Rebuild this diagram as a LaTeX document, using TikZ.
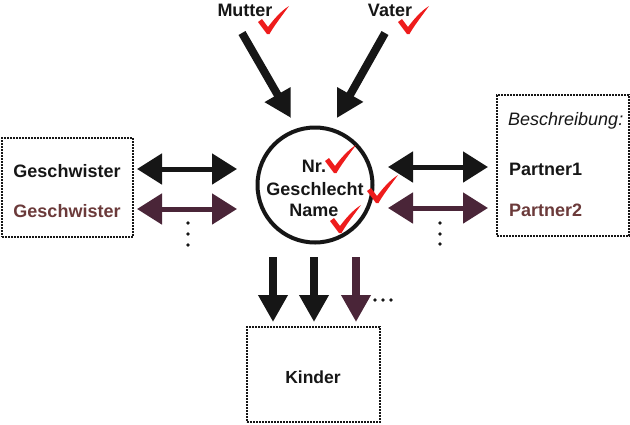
\documentclass[tikz,border=0pt]{standalone}
\usepackage{fontspec}
\setmainfont{Liberation Sans}
\usetikzlibrary{arrows.meta}
\definecolor{dk}{HTML}{161616}
\definecolor{pur}{HTML}{4A2538}
\definecolor{brn}{HTML}{6B3A3A}
\definecolor{chk}{HTML}{EE1C1C}
\begin{document}
\begin{tikzpicture}[x=1pt,y=-1pt,
  txt/.style={font=\fontsize{18}{22}\bfseries, inner sep=0pt, text=dk},
  box/.style={draw=dk, line width=2pt, densely dotted, inner sep=0pt},
  bigarrow/.style={draw=dk, line width=8pt, -{Triangle[width=28pt,length=27pt]}},
  dblarrow/.style={line width=5pt, {Triangle[width=30pt,length=25pt]}-{Triangle[width=30pt,length=25pt]}},
  dotmark/.style={fill=dk, draw=none, circle, minimum size=3.6pt, inner sep=0pt},
  pics/tick/.style={code={
    \fill[chk] (-10,-11) -- (-6,-14) -- (0,-6) .. controls (6,-14) and (13,-22) .. (21,-27)
      .. controls (13,-16) and (6,-7) .. (1.5,1) -- (-1,1) -- cycle;}}]
\useasboundingbox (0,0) rectangle (630,424);

% texts on top
\node[txt, anchor=base] (mutter) at (245,16) {Mutter};
\node[txt, anchor=base] (vater) at (390,16) {Vater};

% person circle
\node[circle, draw=dk, line width=4pt, minimum size=115pt, inner sep=0pt] (person) at (315,185) {};
\node[txt, anchor=base] (nr) at (314,172) {Nr.};
\node[txt, anchor=base] (geschl) at (315,195) {Geschlecht};
\node[txt, anchor=base] (name) at (314,216) {Name};

% boxes
\node[box, minimum width=131pt, minimum height=99pt] (geschbox) at (67.5,187.5) {};
\node[txt, anchor=base] (g1) at (67,177) {Geschwister};
\node[txt, anchor=base, text=brn] (g2) at (67,217) {Geschwister};

\node[box, minimum width=132pt, minimum height=141pt] (partbox) at (563,165.5) {};
\node[txt, anchor=base west, font=\fontsize{18}{20}\itshape] (beschr) at (508,125) {Beschreibung:};
\node[txt, anchor=base west] (p1) at (509,175) {Partner1};
\node[txt, anchor=base west, text=brn] (p2) at (509,216) {Partner2};

\node[box, minimum width=133pt, minimum height=95pt] (kindbox) at (313.5,374.5) {};
\node[txt, anchor=base, font=\fontsize{17.5}{20}\bfseries] (kinder) at (313,383) {Kinder};

% arrow end points
\coordinate (ma) at (242,33);  \coordinate (mb) at (291,118);
\coordinate (va) at (385,33);  \coordinate (vb) at (337,118);
\coordinate (la1) at (137,169); \coordinate (lb1) at (237,169);
\coordinate (la2) at (137,209); \coordinate (lb2) at (237,209);
\coordinate (ra1) at (388,167); \coordinate (rb1) at (488,167);
\coordinate (ra2) at (388,208); \coordinate (rb2) at (488,208);
\coordinate (d1a) at (273,257); \coordinate (d1b) at (273,322);
\coordinate (d2a) at (314,257); \coordinate (d2b) at (314,322);
\coordinate (d3a) at (356,257); \coordinate (d3b) at (356,322);

\draw[bigarrow] (ma) -- (mb);
\draw[bigarrow] (va) -- (vb);
\draw[dblarrow, draw=dk, fill=dk] (la1) -- (lb1);
\draw[dblarrow, draw=pur, fill=pur] (la2) -- (lb2);
\draw[dblarrow, draw=dk, fill=dk] (ra1) -- (rb1);
\draw[dblarrow, draw=pur, fill=pur] (ra2) -- (rb2);
\draw[bigarrow] (d1a) -- (d1b);
\draw[bigarrow] (d2a) -- (d2b);
\draw[bigarrow, draw=pur] (d3a) -- (d3b);

% dots
\foreach \yy [count=\i] in {223,234,245} {\node[dotmark] (ld\i) at (188,\yy) {};}
\foreach \yy [count=\i] in {223,234,244} {\node[dotmark] (rd\i) at (440,\yy) {};}
\foreach \xx [count=\i] in {375,383,391} {\node[dotmark] (bd\i) at (\xx,300) {};}

% ticks
\pic at (268,33) {tick};
\pic at (408,33) {tick};
\pic at (335,172) {tick};
\pic at (377,202) {tick};
\pic at (340,232) {tick};
\end{tikzpicture}
\end{document}
